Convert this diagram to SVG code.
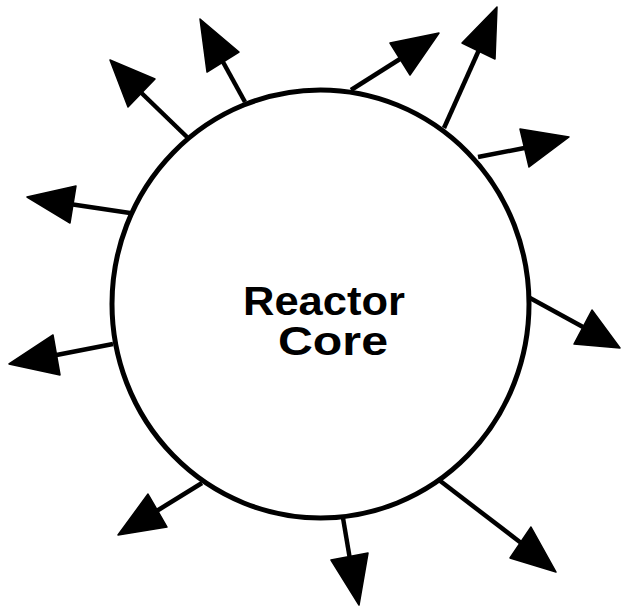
<svg xmlns="http://www.w3.org/2000/svg" width="622" height="606" viewBox="0 0 622 606">
<style>
.core{fill:#fff;stroke:#000;stroke-width:5}
.shaft{stroke:#000;stroke-width:4.5;fill:none}
.head{fill:#000;stroke:#000;stroke-width:1.5;stroke-linejoin:round}
.lbl{font-family:"Liberation Sans",Arial,sans-serif;font-weight:bold;font-size:41px;fill:#000;text-anchor:middle}
</style>
<rect width="622" height="606" fill="#fff"/>
<g id="connectors">
<line class="shaft" x1="130" y1="213" x2="73" y2="204.5"/>
<polygon class="head" points="27,197 76,186 70,223"/>
<line class="shaft" x1="187" y1="137" x2="141.5" y2="93"/>
<polygon class="head" points="110,60 155,79 128,107"/>
<line class="shaft" x1="245" y1="102" x2="223" y2="62"/>
<polygon class="head" points="200,19 239,52 207,72"/>
<line class="shaft" x1="351" y1="90" x2="400" y2="59"/>
<polygon class="head" points="439,33 390,43 410,75"/>
<line class="shaft" x1="444" y1="128" x2="478.5" y2="51"/>
<polygon class="head" points="497,7 462,43 495,59"/>
<line class="shaft" x1="478" y1="157" x2="524.5" y2="148"/>
<polygon class="head" points="569,137 520,129 529,167"/>
<line class="shaft" x1="530" y1="298" x2="583" y2="327"/>
<polygon class="head" points="620,348 592,310 574,344"/>
<line class="shaft" x1="439" y1="480" x2="520.5" y2="542.5"/>
<polygon class="head" points="556,572 531,527 510,558"/>
<line class="shaft" x1="343" y1="518" x2="349.5" y2="556.5"/>
<polygon class="head" points="359,605 331,560 368,553"/>
<line class="shaft" x1="202" y1="483" x2="157.5" y2="510.5"/>
<polygon class="head" points="118,535 148,494 167,527"/>
<line class="shaft" x1="113" y1="344" x2="56.5" y2="355"/>
<polygon class="head" points="9,364 53,335 60,375"/>
</g>
<g id="reactor-core">
<ellipse class="core" cx="320.5" cy="304" rx="208.5" ry="214"/>
<text class="lbl" x="324" y="315" textLength="162" lengthAdjust="spacingAndGlyphs">Reactor</text>
<text class="lbl" x="333" y="355" textLength="110" lengthAdjust="spacingAndGlyphs">Core</text>
</g>
</svg>
